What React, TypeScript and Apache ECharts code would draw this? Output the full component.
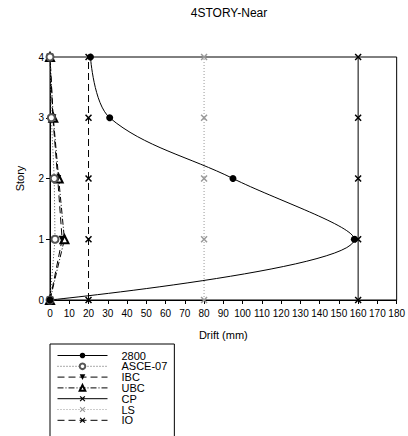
import React, { useEffect, useRef } from "react";
import * as echarts from "echarts";

const stories = [0, 1, 2, 3, 4];
const drift2800 = [0, 158, 95, 31, 21];
const driftASCE07 = [0, 2.6, 2.2, 0.7, 0];
const driftIBC = [0, 6.3, 4.0, 1.5, 0];
const driftUBC = [0, 7.5, 4.5, 1.7, 0];
const driftCP = [160, 160, 160, 160, 160];
const driftLS = [80, 80, 80, 80, 80];
const driftIO = [20, 20, 20, 20, 20];
const legendNames = ["2800", "ASCE-07", "IBC", "UBC", "CP", "LS", "IO"];

const X_SYMBOL =
  "path://M0,1.5 L1.5,0 L5,3.5 L8.5,0 L10,1.5 L6.5,5 L10,8.5 L8.5,10 L5,6.5 L1.5,10 L0,8.5 L3.5,5 Z";

const pairs = (xs: number[]) => xs.map((x, i) => [x, stories[i]]);

export default function App() {
  const ref = useRef<HTMLDivElement>(null);
  useEffect(() => {
    const chart = echarts.init(ref.current!, null, { renderer: "svg" });
    const font = "Liberation Sans, Arial, sans-serif";
    chart.setOption({
      animation: false,
      backgroundColor: "#fff",
      title: {
        text: "4STORY-Near",
        left: 224,
        top: 2,
        textAlign: "center",
        textStyle: { fontFamily: font, fontSize: 12, fontWeight: "normal", color: "#000" },
      },
      grid: {
        left: 50,
        right: 9,
        top: 57,
        bottom: 136,
        show: true,
        borderColor: "#000",
        borderWidth: 1,
        backgroundColor: "transparent",
      },
      xAxis: {
        type: "value",
        min: 0,
        max: 180,
        interval: 10,
        name: "Drift (mm)",
        nameLocation: "middle",
        nameGap: 29,
        nameTextStyle: { fontFamily: font, fontSize: 11, color: "#000" },
        axisLine: { show: true, lineStyle: { color: "#000", width: 1 } },
        axisTick: { show: true, length: 4, lineStyle: { color: "#000" } },
        axisLabel: { fontFamily: font, fontSize: 10, color: "#000", margin: 8 },
        splitLine: { show: false },
      },
      yAxis: {
        type: "value",
        min: 0,
        max: 4,
        interval: 1,
        name: "Story",
        nameLocation: "middle",
        nameGap: 25,
        nameRotate: 90,
        nameTextStyle: { fontFamily: font, fontSize: 11, color: "#000" },
        axisLine: { show: true, lineStyle: { color: "#000", width: 1 } },
        axisTick: { show: true, length: 4, lineStyle: { color: "#000" } },
        axisLabel: { fontFamily: font, fontSize: 10, color: "#000", margin: 6 },
        splitLine: { show: false },
      },
      legend: {
        orient: "vertical",
        left: 50,
        top: 344,
        height: 200,
        itemWidth: 50,
        itemHeight: 7,
        itemGap: -0.2,
        padding: [6, 7, 11, 7],
        borderColor: "#000",
        borderWidth: 1,
        lineStyle: { width: 1 },
        textStyle: {
          fontFamily: font,
          fontSize: 11,
          lineHeight: 10,
          color: "#000",
          padding: [0, 0, 0, 9],
        },
        data: legendNames,
      },
      series: [
        {
          name: "IO",
          type: "line",
          data: pairs(driftIO),
          symbol: X_SYMBOL,
          symbolSize: 7,
          itemStyle: { color: "#000" },
          lineStyle: { color: "#000", width: 1, type: [7, 4] },
        },
        {
          name: "LS",
          type: "line",
          data: pairs(driftLS),
          symbol: X_SYMBOL,
          symbolSize: 7,
          itemStyle: { color: "#999" },
          lineStyle: { color: "#999", width: 1, type: [1, 2] },
        },
        {
          name: "CP",
          type: "line",
          data: pairs(driftCP),
          symbol: X_SYMBOL,
          symbolSize: 7,
          itemStyle: { color: "#000" },
          lineStyle: { color: "#000", width: 1 },
        },
        {
          name: "UBC",
          type: "line",
          data: pairs(driftUBC),
          symbol: "emptyTriangle",
          symbolSize: 8,
          itemStyle: { color: "#000", borderWidth: 1 },
          lineStyle: { color: "#000", width: 1, type: [6, 2, 1, 2] },
        },
        {
          name: "IBC",
          type: "line",
          data: pairs(driftIBC),
          symbol: "triangle",
          symbolRotate: 180,
          symbolSize: 7,
          itemStyle: { color: "#000" },
          lineStyle: { color: "#000", width: 1, type: [7, 4] },
        },
        {
          name: "ASCE-07",
          type: "line",
          data: pairs(driftASCE07),
          symbol: "emptyCircle",
          symbolSize: 7,
          itemStyle: { color: "#555", borderWidth: 1 },
          lineStyle: { color: "#555", width: 1, type: [1, 2] },
        },
        {
          name: "2800",
          type: "line",
          data: pairs(drift2800),
          smooth: 0.35,
          symbol: "circle",
          symbolSize: 7,
          itemStyle: { color: "#000" },
          lineStyle: { color: "#000", width: 1 },
        },
      ],
    });
    return () => chart.dispose();
  }, []);
  return <div ref={ref} style={{ width: 408, height: 436, position: "absolute", left: 0, top: 0 }} />;
}
